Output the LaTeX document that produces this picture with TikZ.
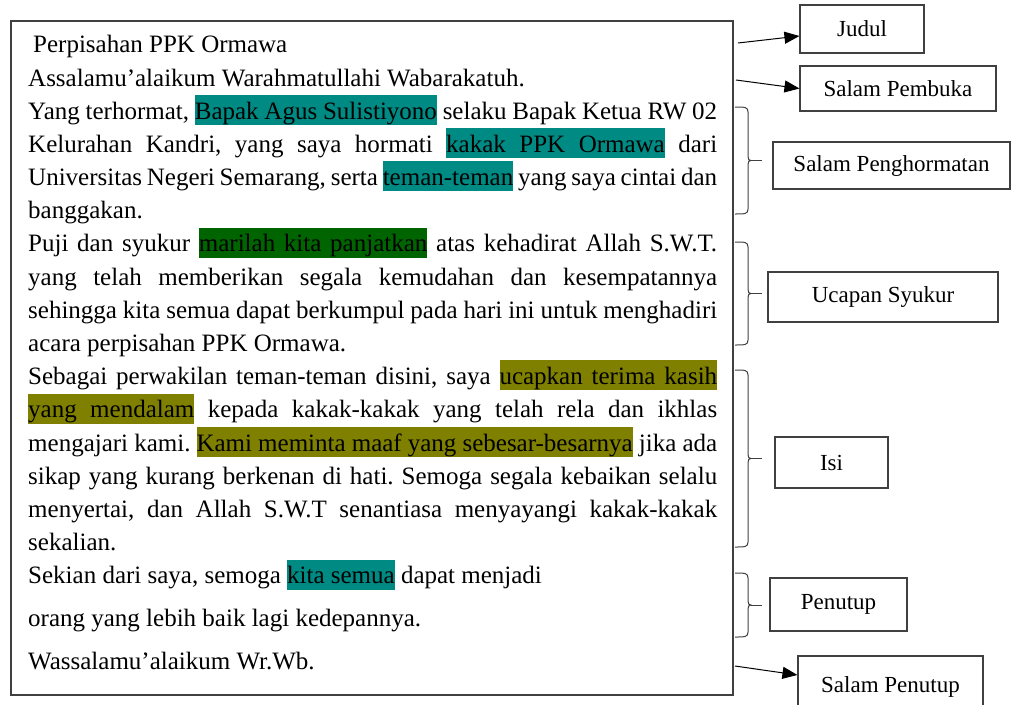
\documentclass[tikz,border=0pt]{standalone}
\usepackage{fontspec}
\setmainfont{Liberation Serif}
\usetikzlibrary{arrows.meta}
\definecolor{hlteal}{HTML}{008A84}
\definecolor{hlgreen}{HTML}{006400}
\definecolor{hlolive}{HTML}{808000}
% stabilo: kata dalam kotak warna, spasi ikut melebar
\newcommand{\hl}[2]{\def\hlcol{#1}\hlsplit#2 \relax}
\def\hlsplit#1 #2\relax{\hlword{#1}\ifx\relax#2\relax\else\hlspace\hlsplit#2\relax\fi}
\newcommand{\hlword}[1]{{\setlength{\fboxsep}{0pt}\colorbox{\hlcol}{\rule[-5.7pt]{0pt}{30pt}#1}}}
\newcommand{\hlspace}{{\color{\hlcol}\leaders\vrule height 24.3pt depth 5.7pt\hskip\fontdimen2\font plus\fontdimen3\font minus\fontdimen4\font}}
\tolerance=9999 \hyphenpenalty=10000 \exhyphenpenalty=10000
\frenchspacing

\begin{document}
\begin{tikzpicture}[x=1pt,y=-1pt,>={Triangle[length=15pt,width=12pt]},
  par/.style={anchor=base west,inner sep=0pt,text width=689pt,align=justify,font=\fontsize{25}{33.2}\selectfont},
  lbl/.style={draw=black!75,line width=1.1pt,inner sep=0pt,font=\fontsize{23}{27}\selectfont},
  brc/.style={draw=black!75,line width=1pt}]
\useasboundingbox (0,0) rectangle (1011,704);
\draw[black!75,line width=1.3pt] (11,21) rectangle (733,695);
% teks surat
\node[par] (judul) at (33,52.7) {Perpisahan PPK Ormawa};
\node[par] (pembuka) at (28,86) {Assalamu’alaikum Warahmatullahi Wabarakatuh.};
\node[par] (hormat) at (28,119.3) {Yang terhormat, \hl{hlteal}{Bapak Agus Sulistiyono} selaku Bapak Ketua RW 02\linebreak
  Kelurahan Kandri, yang saya hormati \hl{hlteal}{kakak PPK Ormawa} dari\linebreak
  Universitas Negeri Semarang, serta \hl{hlteal}{teman-teman} yang saya cintai dan\linebreak
  banggakan.};
\node[par] (syukur) at (28,251.9) {Puji dan syukur \hl{hlgreen}{marilah kita panjatkan} atas kehadirat Allah S.W.T.\linebreak
  yang telah memberikan segala kemudahan dan kesempatannya\linebreak
  sehingga kita semua dapat berkumpul pada hari ini untuk menghadiri\linebreak
  acara perpisahan PPK Ormawa.};
\node[par] (isi) at (28,384.7) {Sebagai perwakilan teman-teman disini, saya \hl{hlolive}{ucapkan terima kasih}\linebreak
  \hl{hlolive}{yang mendalam} kepada kakak-kakak yang telah rela dan ikhlas\linebreak
  mengajari kami. \hl{hlolive}{Kami meminta maaf yang sebesar-besarnya} jika ada\linebreak
  sikap yang kurang berkenan di hati. Semoga segala kebaikan selalu\linebreak
  menyertai, dan Allah S.W.T senantiasa menyayangi kakak-kakak\linebreak
  sekalian.};
\node[par] (penutup) at (28,583.9) {Sekian dari saya, semoga \hl{hlteal}{kita semua} dapat menjadi\\[9.3pt]
  orang yang lebih baik lagi kedepannya.};
\node[par] (wassalam) at (28,669) {Wassalamu’alaikum Wr.Wb.};
% kotak keterangan
\foreach \n/\x/\y/\w/\h/\t in {kJudul/862/29/124/48/Judul,kPembuka/898/88.5/196/45/Salam Pembuka,
  kHormat/891.5/165.5/237/47/Salam Penghormatan,kSyukur/883/297/230/50/Ucapan Syukur,
  kIsi/831.5/462.5/113/51/Isi,kPenutup/838.5/604.5/137/53/Penutup,kSalam/890.5/687/185/62/Salam Penutup}
  \node[lbl,minimum width=\w pt,minimum height=\h pt] (\n) at (\x,\y) {\t};
\coordinate (aJudul) at (738,43);
\coordinate (aPembuka) at (736,80);
\coordinate (aSalam) at (735,666);
\draw[->,black,line width=1pt] (aJudul)--([yshift=-7pt]kJudul.west);
\draw[->,black,line width=1pt] (aPembuka)--(kPembuka.west);
\draw[->,black,line width=1pt] (aSalam)--([yshift=12pt]kSalam.west);
% kurung kurawal
\foreach \a/\b in {107/214,242/345,370/547,573/637}{
  \pgfmathsetmacro\m{(\a+\b)/2}
  \draw[brc] (735,\a) .. controls (745,\a) and (748,\a) .. (748,\a+5) -- (748,\m-4)
    .. controls (748,\m-1) and (749,\m) .. (751,\m) .. controls (749,\m) and (748,\m+1) .. (748,\m+4)
    -- (748,\b-5) .. controls (748,\b) and (745,\b) .. (735,\b);
  \draw[brc] (751,\m)--(762,\m);}
\end{tikzpicture}
\end{document}
